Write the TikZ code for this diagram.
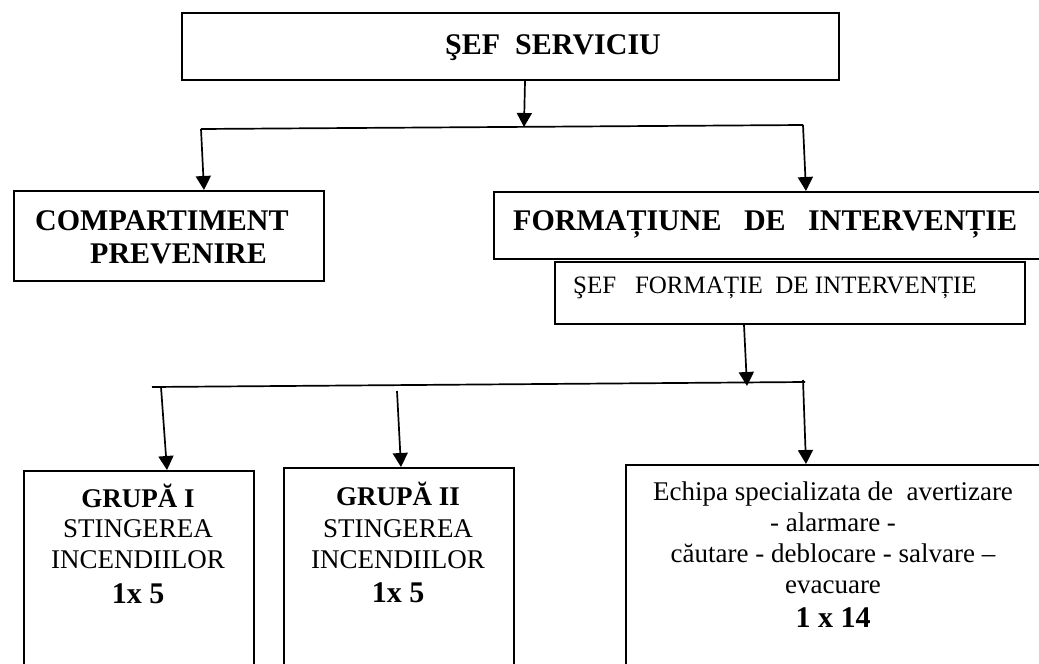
\documentclass[tikz,border=0pt]{standalone}
\usepackage{fontspec}
\setmainfont{Liberation Serif}
\usetikzlibrary{arrows.meta}
\begin{document}
\begin{tikzpicture}[x=1pt,y=-1pt,
  box/.style={draw, line width=2pt, rectangle, inner sep=0pt, anchor=north west},
  conn/.style={line width=1.7pt},
  arr/.style={conn, -{Triangle[width=15pt,length=14pt]}},
  hd/.style={font=\fontsize{30}{33}\selectfont\bfseries, inner sep=0pt, anchor=base west},
  sub/.style={font=\fontsize{25}{29}\selectfont, inner sep=0pt, anchor=base west},
  gt/.style={font=\fontsize{27}{31}\selectfont, inner sep=0pt, anchor=base},
  gb/.style={font=\fontsize{27}{31}\selectfont\bfseries, inner sep=0pt, anchor=base},
  gn/.style={font=\fontsize{30}{33}\selectfont\bfseries, inner sep=0pt, anchor=base}]
\useasboundingbox (0,0) rectangle (1039,664);
\clip (0,0) rectangle (1039,664);

% boxes
\node[box, minimum width=657pt, minimum height=67pt] (sef) at (181,12) {};
\node[box, minimum width=310pt, minimum height=90pt] (comp) at (13,190) {};
\node[box, minimum width=560pt, minimum height=67pt] (form) at (493,191) {};
\node[box, minimum width=470pt, minimum height=62pt] (sform) at (554,261) {};
\node[box, minimum width=230pt, minimum height=240pt] (g1) at (23,470) {};
\node[box, minimum width=230pt, minimum height=240pt] (g2) at (283,467) {};
\node[box, minimum width=430pt, minimum height=240pt] (ech) at (625,464) {};

% texts
\node[hd] (tsef) at (445,54) {ŞEF~ SERVICIU};
\node[hd] (tcomp1) at (35,230) {COMPARTIMENT};
\node[hd] (tcomp2) at (90,263) {PREVENIRE};
\node[hd] (tform) at (513,230) {FORMAȚIUNE~~ DE~~ INTERVENȚIE};
\node[sub] (tsform) at (573,293) {ŞEF~~ FORMAȚIE~ DE INTERVENȚIE};

\node[gb] (g1a) at (138,507) {GRUPĂ I};
\node[gt] (g1b) at (138,537) {STINGEREA};
\node[gt] (g1c) at (138,568) {INCENDIILOR};
\node[gn] (g1d) at (138,603) {1x 5};

\node[gb] (g2a) at (398,505) {GRUPĂ II};
\node[gt] (g2b) at (398,537) {STINGEREA};
\node[gt] (g2c) at (398,568) {INCENDIILOR};
\node[gn] (g2d) at (398,602) {1x 5};

\node[gt] (ea) at (833,500) {Echipa specializata de~ avertizare};
\node[gt] (eb) at (833,531) {- alarmare -};
\node[gt] (ec) at (833,562) {căutare - deblocare - salvare –};
\node[gt] (ed) at (833,593) {evacuare};
\node[gn] (ee) at (833,627) {1 x 14};

% upper connectors
\coordinate (t1) at (524,127);
\coordinate (hl) at (201,129);
\coordinate (hr) at (803,125);
\draw[arr] ([xshift=14.5pt]sef.south) -- (t1);
\draw[conn] (hl) -- (hr);
\draw[arr] (hl) -- ([xshift=35pt]comp.north);
\draw[arr] (hr) -- ([xshift=32pt]form.north);

% lower connectors
\coordinate (m1) at (747,386);
\coordinate (bl) at (152,387);
\coordinate (br) at (805,382);
\coordinate (v1) at (161,387);
\coordinate (v2) at (397,391);
\coordinate (v3) at (803,380);
\draw[arr] ([xshift=-46pt]sform.south) -- (m1);
\draw[conn] (bl) -- (br);
\draw[arr] (v1) -- ([xshift=28pt]g1.north);
\draw[arr] (v2) -- ([xshift=2pt]g2.north);
\draw[arr] (v3) -- ([xshift=-35pt]ech.north);
\end{tikzpicture}
\end{document}
